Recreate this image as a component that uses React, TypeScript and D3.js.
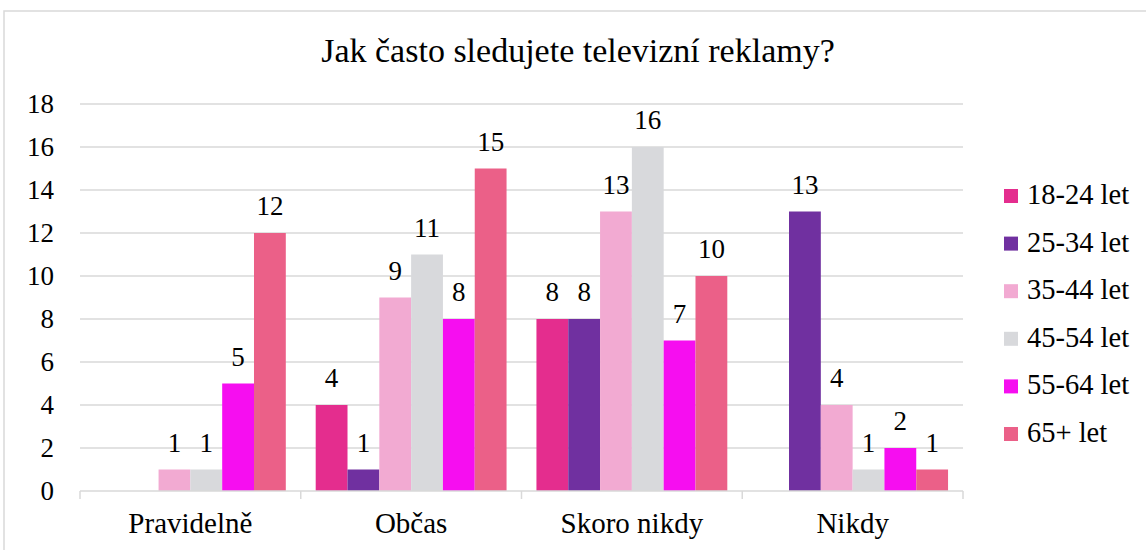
import * as d3 from 'd3'

const categories = ['Pravidelně', 'Občas', 'Skoro nikdy', 'Nikdy']
const seriesNames = ['18-24 let', '25-34 let', '35-44 let', '45-54 let', '55-64 let', '65+ let']
const seriesColors = ['#E42D8E', '#7030A0', '#F2AAD2', '#D8D9DC', '#F60EF0', '#EB6088']
// values[series][category]
const values = [
  [0, 4, 8, 0],
  [0, 1, 8, 13],
  [1, 9, 13, 4],
  [1, 11, 16, 1],
  [5, 8, 7, 2],
  [12, 15, 10, 1],
]
const yTicks = [0, 2, 4, 6, 8, 10, 12, 14, 16, 18]

const App = () => {
  const width = 1146
  const height = 550
  const left = 80
  const right = 963
  const top = 104
  const bottom = 491
  const font = 'Liberation Serif, Times New Roman, serif'

  const x0 = d3.scaleBand().domain(categories).range([left, right]).paddingInner(0).paddingOuter(0)
  const x1 = d3.scaleBand<number>()
    .domain(d3.range(seriesNames.length))
    .range([0, x0.bandwidth()])
    .paddingOuter(0.47)
    .paddingInner(0)
  const y = d3.scaleLinear().domain([0, 18]).range([bottom, top])

  const boundaries = categories.map(c => x0(c)!).concat([right])

  return (
    <svg width={width} height={height} style={{ position: 'absolute', left: 0, top: 0, background: '#fff', fontFamily: font }}>
      <rect x={4} y={11} width={1160} height={560} fill="#fff" stroke="#D9D9D9" strokeWidth={1.5} />
      <text x={578} y={62} textAnchor="middle" fontSize={34} fill="#000">
        Jak často sledujete televizní reklamy?
      </text>
      {yTicks.map(t => (
        <g key={t}>
          {t > 0 && <line x1={left} x2={right} y1={y(t)} y2={y(t)} stroke="#D9D9D9" strokeWidth={1.5} />}
          <text x={54} y={y(t) + 9} textAnchor="end" fontSize={27} fill="#000">{t}</text>
        </g>
      ))}
      {seriesNames.map((s, si) =>
        categories.map((c, ci) => {
          const v = values[si][ci]
          const bx = x0(c)! + x1(si)!
          return (
            <g key={s + c}>
              {v > 0 && (
                <rect x={bx} y={y(v)} width={x1.bandwidth()} height={y(0) - y(v)} fill={seriesColors[si]} />
              )}
              {v > 0 && (
                <text x={bx + x1.bandwidth() / 2} y={y(v) - 18} textAnchor="middle" fontSize={27} fill="#000">
                  {v}
                </text>
              )}
            </g>
          )
        })
      )}
      <line x1={left} x2={right} y1={bottom} y2={bottom} stroke="#D9D9D9" strokeWidth={1.5} />
      {boundaries.map((b, i) => (
        <line key={i} x1={b} x2={b} y1={bottom} y2={bottom + 8} stroke="#D9D9D9" strokeWidth={1.5} />
      ))}
      {categories.map(c => (
        <text key={c} x={x0(c)! + x0.bandwidth() / 2} y={533} textAnchor="middle" fontSize={29} fill="#000">
          {c}
        </text>
      ))}
      {seriesNames.map((s, i) => {
        const ly = 196 + i * 47.6
        return (
          <g key={s}>
            <rect x={1004} y={ly - 7} width={14} height={14} fill={seriesColors[i]} />
            <text x={1027} y={ly + 8} fontSize={28.5} fill="#000">{s}</text>
          </g>
        )
      })}
    </svg>
  )
}

export default App
